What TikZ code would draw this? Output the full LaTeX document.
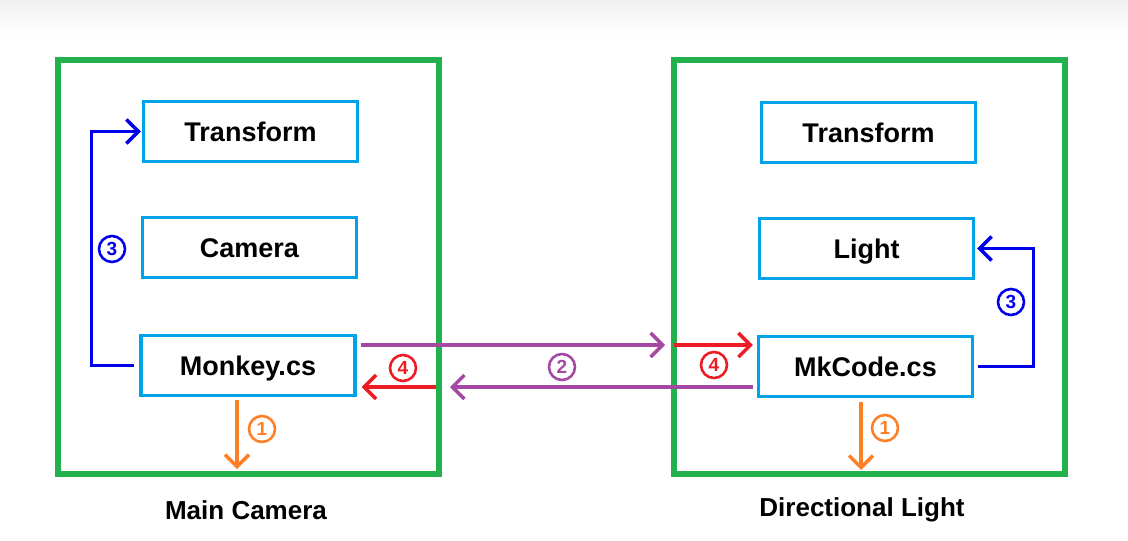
\documentclass[tikz,border=0pt]{standalone}
\usepackage{fontspec}
\setmainfont{Liberation Sans}
\usetikzlibrary{arrows.meta}
\definecolor{cgreen}{RGB}{34,177,76}
\definecolor{cbox}{RGB}{0,162,232}
\definecolor{cblue}{RGB}{0,0,235}
\definecolor{corange}{RGB}{255,127,39}
\definecolor{cpurple}{RGB}{163,73,164}
\definecolor{cred}{RGB}{237,28,36}
\tikzset{
  container/.style={draw=cgreen, line width=6pt, minimum width=381pt, minimum height=414pt, inner sep=0pt},
  comp/.style={draw=cbox, line width=3.4pt, minimum width=214pt, minimum height=60pt, inner sep=0pt,
    font=\fontsize{27}{30}\selectfont\bfseries, text height=19.5pt, text depth=0pt},
  conn/.style={line width=3.4pt, -{Straight Barb[length=12pt, width=24pt, line width=3.4pt]}},
  num/.style={circle, draw, line width=2.6pt, minimum size=26pt, inner sep=0pt,
    font=\fontsize{19}{19}\selectfont\bfseries},
  caption/.style={font=\fontsize{26}{30}\selectfont\bfseries}
}
\begin{document}
\begin{tikzpicture}[x=1pt, y=-1pt]
\useasboundingbox (0,0) rectangle (1128,541);
\shade[top color=black!6, bottom color=white] (0,0) rectangle (1128,36);

% containers
\node[container] (mc) at (248,267.25) {};
\node[container, minimum width=391pt] (dl) at (869,267) {};

% left components
\node[comp] (ltr) at (250.5,131.5) {Transform};
\node[comp] (lcam) at (249.5,247.5) {Camera};
\node[comp] (lmk) at (248,365.5) {Monkey.cs};

% right components
\node[comp] (rtr) at (868.5,132.5) {Transform};
\node[comp] (rli) at (866.5,248.5) {Light};
\node[comp] (rmk) at (865.5,366.5) {MkCode.cs};

% captions
\node[caption] (cap1) at (246,510) {Main Camera};
\node[caption] (cap2) at (862,510) {Directional Light};

% left blue loop
\draw[conn, cblue, shorten <=5pt, shorten >=1pt] (lmk.west) -- ++(-48,0) |- (ltr.west);
\node[num, cblue] (n3l) at (112,249) {3};

% right blue loop
\draw[conn, cblue, shorten <=4pt, shorten >=2pt] (rmk.east) -- ++(59,0) |- (rli.east);
\node[num, cblue] (n3r) at (1011,302) {3};

% orange
\coordinate (lo) at (237,469);
\draw[conn, corange, shorten <=3pt] (lmk.south -| lo) -- (lo);
\node[num, corange] (n1l) at (262,429) {1};
\coordinate (ro) at (861,470);
\draw[conn, corange, shorten <=4pt] (rmk.south -| ro) -- (ro);
\node[num, corange] (n1r) at (885,428) {1};

% purple
\draw[conn, cpurple, shorten <=4pt, shorten >=5.5pt] ([yshift=20.5pt]lmk.east) -- ([yshift=20.5pt]lmk.east -| dl.west);
\draw[conn, cpurple, shorten <=4pt, shorten >=8.5pt] ([yshift=-20.5pt]rmk.west) -- ([yshift=-20.5pt]rmk.west -| mc.east);
\node[num, cpurple] (n2) at (562,367) {2};

% red
\draw[conn, cred, shorten <=5.5pt, shorten >=5pt] ([yshift=-21.5pt]lmk.east -| mc.east) -- ([yshift=-21.5pt]lmk.east);
\node[num, cred] (n4l) at (403,368) {4};
\draw[conn, cred, shorten <=3.5pt, shorten >=4pt] ([yshift=21.5pt]rmk.west -| dl.west) -- ([yshift=21.5pt]rmk.west);
\node[num, cred] (n4r) at (714,365) {4};
\end{tikzpicture}
\end{document}
